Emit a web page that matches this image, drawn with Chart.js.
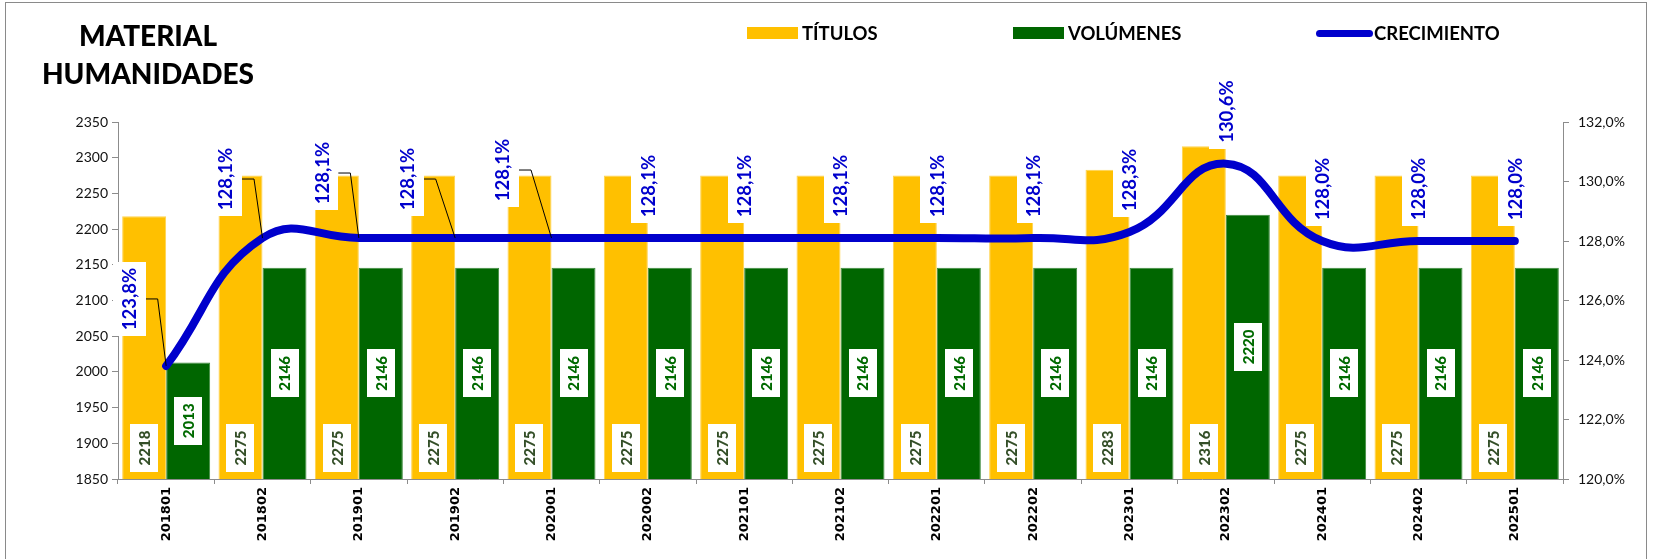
<!DOCTYPE html>
<html>
<head>
<meta charset="utf-8">
<script src="https://cdn.jsdelivr.net/npm/chart.js@4.4.1/dist/chart.umd.min.js"></script>
<style>
  body { margin: 0; background: #fff; }
  #wrap { position: relative; width: 1655px; height: 559px; overflow: hidden; font-family: Lato, "Noto Sans", sans-serif; }
  #frame { position: absolute; left: 5px; top: 2px; width: 1642px; height: 570px; border: 1px solid #8a8a8a; box-sizing: border-box; }
  #title { position: absolute; left: 30px; top: 16px; width: 236px; text-align: center; font-weight: 900; font-size: 28px; line-height: 38px; color: #000; }
  .leg { position: absolute; top: 21px; font-weight: 700; font-size: 18.5px; line-height: 24px; color: #000; }
  .sw { position: absolute; }
  canvas { position: absolute; left: 0; top: 0; }
</style>
</head>
<body>
<div id="wrap">
  <canvas id="chart" width="1655" height="559"></canvas>
  <div id="frame"></div>
  <div id="title">MATERIAL<br>HUMANIDADES</div>
  <div class="sw" style="left:747px;top:27px;width:51px;height:12px;background:#FFC000"></div>
  <div class="leg" style="left:802px">TÍTULOS</div>
  <div class="sw" style="left:1013px;top:27px;width:51px;height:12px;background:#006600"></div>
  <div class="leg" style="left:1068px">VOLÚMENES</div>
  <div class="sw" style="left:1316px;top:30px;width:57px;height:7px;border-radius:4px;background:#0000CC"></div>
  <div class="leg" style="left:1374px">CRECIMIENTO</div>
</div>
<script>
// Chart data
const periods = ['201801', '201802', '201901', '201902', '202001', '202002', '202101', '202102',
  '202201', '202202', '202301', '202302', '202401', '202402', '202501'];
const titulos = [2218, 2275, 2275, 2275, 2275, 2275, 2275, 2275, 2275, 2275, 2283, 2316, 2275, 2275, 2275];
const volumenes = [2013, 2146, 2146, 2146, 2146, 2146, 2146, 2146, 2146, 2146, 2146, 2220, 2146, 2146, 2146];
const crecimiento = [123.8, 128.1, 128.1, 128.1, 128.1, 128.1, 128.1, 128.1, 128.1, 128.1, 128.3, 130.6, 128.0, 128.0, 128.0];

// label box shifts (px) for the percent labels moved by hand in the original
const pctShift = [[-37, -67], [-37, -59], [-37, -65], [-48, -59], [-49, -68]];

const fmtPct = v => v.toFixed(1).replace('.', ',') + '%';

function drawBox(ctx, cx, cy, w, h, text, color, font) {
  ctx.fillStyle = '#fff';
  ctx.fillRect(Math.round(cx - w / 2), Math.round(cy - h / 2), w, h);
  ctx.save();
  ctx.translate(cx, cy);
  ctx.rotate(-Math.PI / 2);
  ctx.font = font;
  ctx.fillStyle = color;
  ctx.textAlign = 'center';
  ctx.textBaseline = 'middle';
  ctx.fillText(text, 0, 1);
  ctx.restore();
}

const boxLabels = {
  id: 'boxLabels',
  afterDatasetsDraw(chart) {
    const ctx = chart.ctx;
    const yScale = chart.scales.y;
    const bottom = chart.chartArea.bottom;
    const barFont = '900 15px Lato';

    // TÍTULOS labels near the base
    chart.getDatasetMeta(0).data.forEach((bar, i) => {
      drawBox(ctx, bar.x, bottom - 31, 28, 48, String(titulos[i]), '#344f28', barFont);
    });

    // VOLÚMENES labels centred
    chart.getDatasetMeta(1).data.forEach((bar, i) => {
      const top = yScale.getPixelForValue(volumenes[i]);
      drawBox(ctx, bar.x, (top + bottom) / 2, 28, 48, String(volumenes[i]), '#006a00', barFont);
    });

    // CRECIMIENTO labels with leader lines
    chart.getDatasetMeta(2).data.forEach((pt, i) => {
      const s = pctShift[i] || [0, -52];
      const cx = pt.x + s[0];
      const cy = pt.y + s[1];
      if (pctShift[i]) {
        const right = cx + 16.5;
        ctx.save();
        ctx.strokeStyle = '#000';
        ctx.lineWidth = 1;
        ctx.beginPath();
        ctx.moveTo(right, cy);
        ctx.lineTo(right + 12, cy);
        ctx.lineTo(pt.x, pt.y);
        ctx.stroke();
        ctx.restore();
      }
      drawBox(ctx, cx, cy, 33, 74, fmtPct(crecimiento[i]), '#0000CC', 'bold 18.5px Lato');
    });
  }
};

new Chart(document.getElementById('chart').getContext('2d'), {
  type: 'bar',
  data: {
    labels: periods,
    datasets: [
      {
        label: 'TÍTULOS',
        data: titulos,
        backgroundColor: '#FFC000',
        borderColor: '#FFD34D',
        borderWidth: 1,
        yAxisID: 'y',
        order: 2
      },
      {
        label: 'VOLÚMENES',
        data: volumenes,
        backgroundColor: '#006600',
        borderColor: '#3d8a3d',
        borderWidth: 1,
        yAxisID: 'y',
        order: 2
      },
      {
        type: 'line',
        label: 'CRECIMIENTO',
        data: crecimiento,
        borderColor: '#0000CC',
        borderWidth: 8,
        borderCapStyle: 'round',
        borderJoinStyle: 'round',
        tension: 0.45,
        pointRadius: 0,
        fill: false,
        yAxisID: 'y1',
        order: 0
      }
    ]
  },
  options: {
    responsive: false,
    animation: false,
    categoryPercentage: 0.9135,
    barPercentage: 1,
    layout: { padding: { left: 0, right: 0, top: 122, bottom: 0 } },
    plugins: {
      legend: { display: false },
      tooltip: { enabled: false }
    },
    scales: {
      x: {
        grid: { drawOnChartArea: false, tickLength: 5, color: '#8c8c8c', offset: true },
        border: { color: '#8c8c8c' },
        ticks: {
          color: '#000',
          font: { family: 'DejaVu Sans', weight: 'bold', size: 13 },
          maxRotation: 90,
          minRotation: 90,
          padding: 3
        },
        afterFit: scale => { scale.height = 80; }
      },
      y: {
        position: 'left',
        min: 1850,
        max: 2350,
        grid: { drawOnChartArea: false, tickLength: 6, color: '#8c8c8c' },
        border: { color: '#8c8c8c' },
        ticks: {
          stepSize: 50,
          color: '#111',
          font: { family: 'Lato', size: 14 },
          padding: 4,
          callback: v => String(v)
        },
        afterFit: scale => { scale.width = 118; }
      },
      y1: {
        position: 'right',
        min: 120,
        max: 132,
        grid: { drawOnChartArea: false, tickLength: 6, color: '#8c8c8c' },
        border: { color: '#8c8c8c' },
        ticks: {
          stepSize: 2,
          color: '#111',
          font: { family: 'Lato', size: 14 },
          padding: 9,
          callback: v => fmtPct(v)
        },
        afterFit: scale => { scale.width = 92; }
      }
    }
  },
  plugins: [boxLabels]
});
</script>
</body>
</html>
